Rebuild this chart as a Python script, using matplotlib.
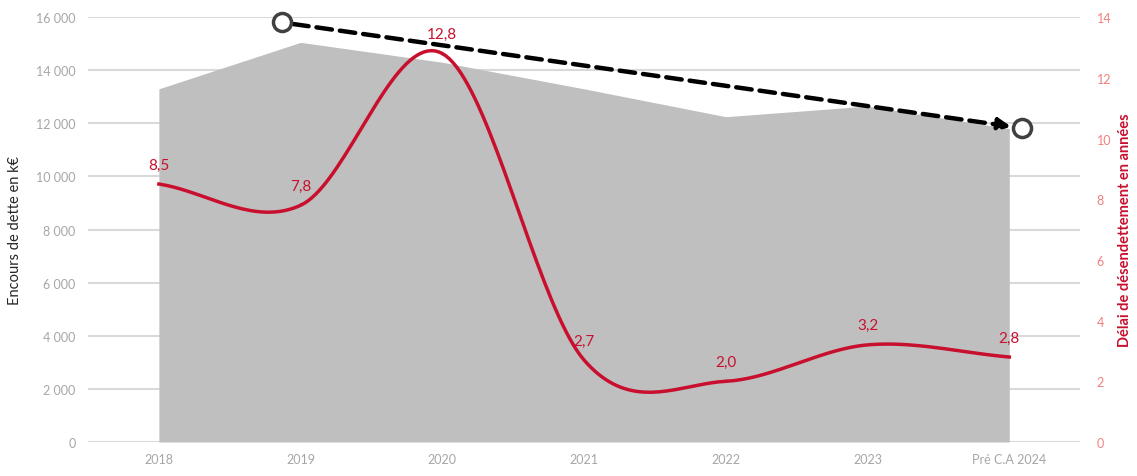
import numpy as np
import matplotlib.pyplot as plt

# données
annees = ['2018', '2019', '2020', '2021', '2022', '2023', 'Pré C.A 2024']
encours = [13300, 15050, 14300, 13300, 12250, 12650, 11800]
delai = [8.5, 7.8, 12.8, 2.7, 2.0, 3.2, 2.8]
etiquettes = ['8,5', '7,8', '12,8', '2,7', '2,0', '3,2', '2,8']
# tendance (flèche pointillée) : début et fin
tendance_x = [0.87, 6.09]
tendance_y = [15800, 11820]

rouge = '#c8102e'
gris_txt = '#a6a6a6'


def lissage(x, y, n=40):
    # courbe lissée type Excel (Catmull-Rom)
    x = np.asarray(x, float)
    y = np.asarray(y, float)
    px = np.concatenate([[2 * x[0] - x[1]], x, [2 * x[-1] - x[-2]]])
    py = np.concatenate([[2 * y[0] - y[1]], y, [2 * y[-1] - y[-2]]])
    xs, ys = [], []
    for i in range(1, len(px) - 2):
        t = np.linspace(0, 1, n)
        for p, out in ((px, xs), (py, ys)):
            p0, p1, p2, p3 = p[i - 1], p[i], p[i + 1], p[i + 2]
            out.extend(0.5 * ((2 * p1) + (-p0 + p2) * t
                              + (2 * p0 - 5 * p1 + 4 * p2 - p3) * t ** 2
                              + (-p0 + 3 * p1 - 3 * p2 + p3) * t ** 3))
    return np.array(xs), np.array(ys)


plt.rcParams['font.family'] = ['Lato', 'DejaVu Sans']

fig = plt.figure(figsize=(11.37, 4.77), dpi=100)
ax = fig.add_axes([0.0774, 0.0713, 0.8726, 0.8907])
ax2 = ax.twinx()

x = np.arange(len(annees))

ax.fill_between(x, encours, 0, color='#bfbfbf', lw=0, zorder=2)
ax.set_xlim(-0.5, len(annees) - 0.5)
ax.set_ylim(0, 16000)
ax.set_yticks(np.arange(0, 16001, 2000))
ax.set_yticklabels([f'{v:,}'.replace(',', ' ') for v in range(0, 16001, 2000)])
ax.grid(axis='y', color='#d9d9d9', lw=1.5, zorder=0)
ax.set_axisbelow(True)
ax.set_xticks(x)
ax.set_xticklabels(annees)
ax.tick_params(length=0, colors=gris_txt, labelsize=9)
ax.tick_params(axis='x', pad=8)
ax.tick_params(axis='y', pad=9)
for s in ax.spines.values():
    s.set_visible(False)
ax.set_ylabel('Encours de dette en k€', fontsize=10.5, color='#262626', labelpad=10)

# délai de désendettement
lx, ly = lissage(x, delai)
ax2.plot(lx, ly, color=rouge, lw=2.5, zorder=5)
ax2.set_ylim(0, 14)
ax2.set_yticks(np.arange(0, 15, 2))
ax2.tick_params(length=0, colors='#f08080', labelsize=9, pad=12)
for s in ax2.spines.values():
    s.set_visible(False)
ax2.set_ylabel('Délai de désendettement en années', fontsize=10.5, color=rouge,
               fontweight='bold', labelpad=5)
for xi, yi, lab in zip(x, delai, etiquettes):
    ax2.annotate(lab, (xi, yi), xytext=(0, 9), textcoords='offset points', ha='center',
                 va='bottom', color=rouge, fontsize=11, zorder=8)

# flèche de tendance (sur l'échelle de gauche)
ax2.annotate('', xy=(tendance_x[1], tendance_y[1]), xytext=(tendance_x[0], tendance_y[0]),
             xycoords=ax.transData, textcoords=ax.transData,
             arrowprops=dict(arrowstyle='-|>', color='black', lw=3.2, linestyle=(0, (3.5, 1.8)),
                             mutation_scale=18, shrinkA=8, shrinkB=8),
             zorder=6)
ax2.plot(tendance_x, tendance_y, 'o', ms=13, mfc='white', mec='#404040', mew=2.5, zorder=7,
         clip_on=False, transform=ax.transData)

fig.savefig('out.png', dpi=100)
